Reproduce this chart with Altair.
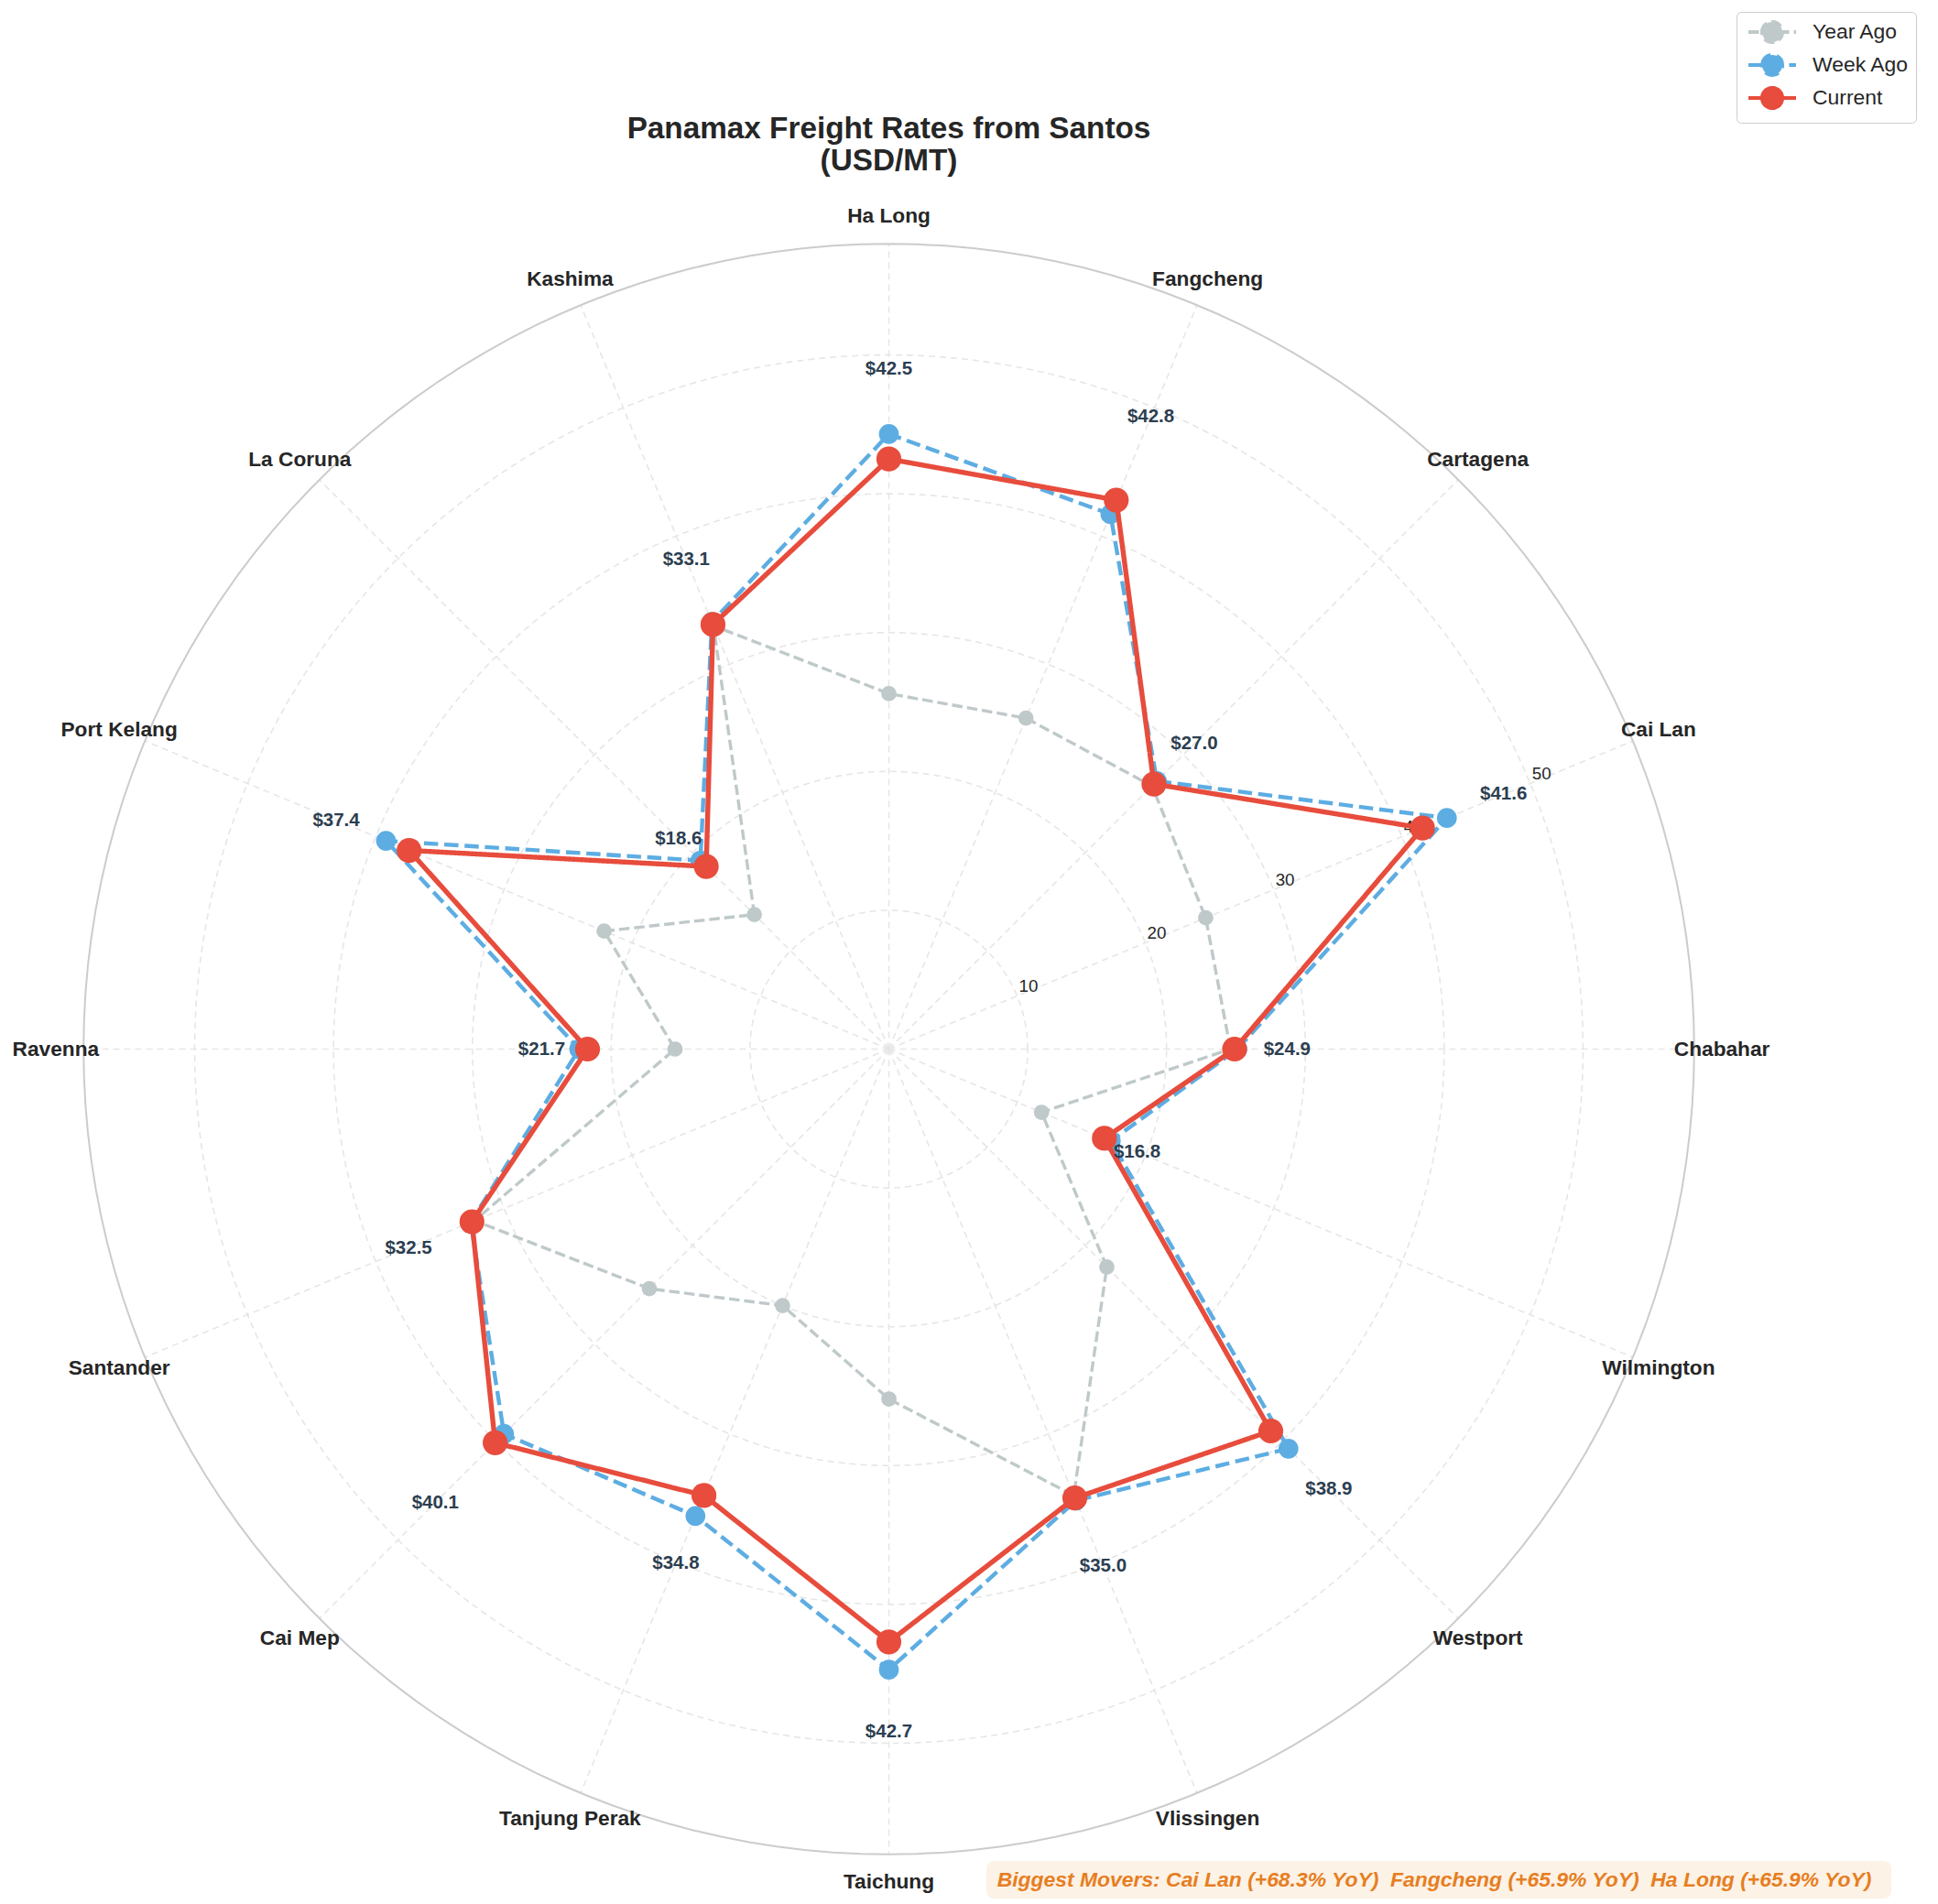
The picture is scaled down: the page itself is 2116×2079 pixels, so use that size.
import altair as alt
import pandas as pd

# ---------------- data ----------------
ports = ["Chabahar", "Cai Lan", "Cartagena", "Fangcheng", "Ha Long", "Kashima",
         "La Coruna", "Port Kelang", "Ravenna", "Santander", "Cai Mep",
         "Tanjung Perak", "Taichung", "Vlissingen", "Westport", "Wilmington"]
year_ago = [24.6, 24.7, 26.8, 25.8, 25.6, 33.0, 13.7, 22.2, 15.4, 32.3, 24.4, 20.0, 25.2, 34.8, 22.2, 11.9]
week_ago = [25.1, 43.5, 27.3, 41.7, 44.3, 33.3, 19.2, 39.2, 22.3, 32.6, 39.2, 36.4, 44.7, 35.2, 40.7, 17.3]
current = [24.9, 41.6, 27.0, 42.8, 42.5, 33.1, 18.6, 37.4, 21.7, 32.5, 40.1, 34.8, 42.7, 35.0, 38.9, 16.8]
series_names = ["Year Ago", "Week Ago", "Current"]
ring_ticks = [10, 20, 30, 40, 50]
r_max = 58.0
title_lines = ["Panamax Freight Rates from Santos", "(USD/MT)"]
movers_text = "Biggest Movers: Cai Lan (+68.3% YoY)  Fangcheng (+65.9% YoY)  Ha Long (+65.9% YoY)"

# ---------------- styles ----------------
series_colors = ["#bfc9ca", "#5dade2", "#e74c3c"]
series_dash = [[11.5, 5], [15.5, 6.7], [1, 0]]
series_width = {"Year Ago": 3.4, "Week Ago": 4.4, "Current": 5.4}
series_size = {"Year Ago": 280, "Week Ago": 470, "Current": 740}
FONT = "Liberation Sans"
TEXT = "#262626"

N = len(ports)
S = 15.16          # px per unit
W, H = 2096, 2071
CX, CY = 962.5, 1137.5
xs = alt.Scale(domain=[-CX / S, (W - CX) / S], nice=False, zero=False)
ys = alt.Scale(domain=[-(H - CY) / S, CY / S], nice=False, zero=False)
X = alt.X("x:Q", scale=xs, axis=None)
Y = alt.Y("y:Q", scale=ys, axis=None)
ANG = f"datum.idx * 2 * PI / {N}"

rows = []
for name, vals in zip(series_names, [year_ago, week_ago, current]):
    closed = vals + vals[:1]
    for i, v in enumerate(closed):
        rows.append({"series": name, "port": ports[i % N], "idx": i, "value": v})
df = pd.DataFrame(rows)

legend = alt.Legend(
    title=None, orient="none", legendX=1888, legendY=5,
    symbolType="M-2,0L2,0M-0.85,0A0.85,0.85,0,1,1,0.85,0A0.85,0.85,0,1,1,-0.85,0",
    symbolSize=676, symbolOffset=17, labelOffset=29, symbolStrokeWidth=4,
    labelFont=FONT, labelFontSize=22.9, labelColor=TEXT,
    padding=7, rowPadding=-4, strokeColor="#cccccc", fillColor="white",
    cornerRadius=5, labelLimit=300,
)
c_scale = alt.Scale(domain=series_names, range=series_colors)
d_scale = alt.Scale(domain=series_names, range=series_dash)

# ---------------- grid ----------------
def ring_layer(values, dashed, color, width):
    mark = dict(color=color, strokeWidth=width)
    if dashed:
        mark["strokeDash"] = [7, 5]
    return (
        alt.Chart(pd.DataFrame({"ring": values}))
        .transform_calculate(deg="sequence(0, 362, 2)")
        .transform_flatten(["deg"])
        .transform_calculate(
            x="datum.ring * cos(datum.deg * PI / 180)",
            y="datum.ring * sin(datum.deg * PI / 180)",
        )
        .mark_line(**mark)
        .encode(x=X, y=Y, detail="ring:N", order="deg:Q")
    )

rings = ring_layer(ring_ticks, True, "#e6e6e6", 1.6)
outer = ring_layer([r_max], False, "#cccccc", 2)

spokes = (
    alt.Chart(pd.DataFrame({"idx": list(range(N))}))
    .transform_calculate(
        x="0", y="0",
        x2=f"{r_max} * cos({ANG})", y2=f"{r_max} * sin({ANG})",
    )
    .mark_rule(color="#e6e6e6", strokeWidth=1.6, strokeDash=[7, 5])
    .encode(x=X, y=Y, x2="x2:Q", y2="y2:Q")
)

tick_labels = (
    alt.Chart(pd.DataFrame({"ring": ring_ticks}))
    .transform_calculate(x="datum.ring * cos(PI / 8)", y="datum.ring * sin(PI / 8)")
    .mark_text(align="left", baseline="alphabetic", dx=2, dy=-4.5, font=FONT,
               fontSize=18.75, color="#262626")
    .encode(x=X, y=Y, text=alt.Text("ring:Q", format="d"))
)

# ---------------- series ----------------
base = alt.Chart(df).transform_calculate(
    x=f"datum.value * cos({ANG})", y=f"datum.value * sin({ANG})"
)
series_layers = []
for name in series_names:
    line = (
        base.transform_filter(alt.datum.series == name)
        .mark_line(strokeWidth=series_width[name])
        .encode(
            x=X, y=Y, order="idx:Q",
            stroke=alt.Stroke("series:N", scale=c_scale, legend=legend),
            strokeDash=alt.StrokeDash("series:N", scale=d_scale, legend=legend),
        )
    )
    pts = (
        base.transform_filter((alt.datum.series == name) & (alt.datum.idx < N))
        .mark_point(filled=True, opacity=1, size=series_size[name])
        .encode(
            x=X, y=Y,
            fill=alt.Fill("series:N", scale=c_scale, legend=legend),
        )
    )
    series_layers += [line, pts]

value_labels = (
    alt.Chart(pd.DataFrame({"idx": list(range(N)), "value": current}))
    .transform_calculate(
        x=f"datum.value * 1.152 * cos({ANG})",
        y=f"datum.value * 1.152 * sin({ANG})",
        label="'$' + format(datum.value, '.1f')",
    )
    .mark_text(font=FONT, fontSize=20.5, fontWeight="bold", color="#2c3e50",
               align="center", baseline="middle")
    .encode(x=X, y=Y, text="label:N")
)

cat_labels = (
    alt.Chart(pd.DataFrame({"idx": list(range(N)), "port": ports}))
    .transform_calculate(x=f"60.0 * cos({ANG})", y=f"60.0 * sin({ANG})")
    .mark_text(font=FONT, fontSize=22.7, fontWeight="bold", color=TEXT,
               align="center", baseline="middle")
    .encode(x=X, y=Y, text="port:N")
)

title = (
    alt.Chart(pd.DataFrame({"t": [0]}))
    .mark_text(font=FONT, fontSize=33.3, fontWeight="bold", color=TEXT,
               align="center", baseline="alphabetic", lineHeight=35.6)
    .encode(x=alt.value(CX), y=alt.value(142.7), text=alt.value(title_lines))
)

movers_shown = movers_text.replace("  ", " \u00a0")
movers_box = (
    alt.Chart(pd.DataFrame({"t": [movers_shown]}))
    .mark_rect(fill="#fdf2e6", cornerRadius=8)
    .encode(x=alt.value(1069), x2=alt.value(2057), y=alt.value(2024), y2=alt.value(2065))
)
movers = (
    alt.Chart(pd.DataFrame({"t": [movers_shown]}))
    .mark_text(font=FONT, fontSize=22.9, fontWeight="bold", fontStyle="italic",
               color="#e67e22", align="center", baseline="middle")
    .encode(x=alt.value(1558), y=alt.value(2045), text="t:N")
)

chart = (
    alt.layer(rings, spokes, outer, tick_labels, *series_layers, value_labels,
              cat_labels, title, movers_box, movers)
    .properties(width=W, height=H, padding=0,
                autosize=alt.AutoSizeParams(type="none"))
    .configure_view(stroke=None)
)

chart.save("out.html", embed_options={"renderer": "svg", "actions": False})
